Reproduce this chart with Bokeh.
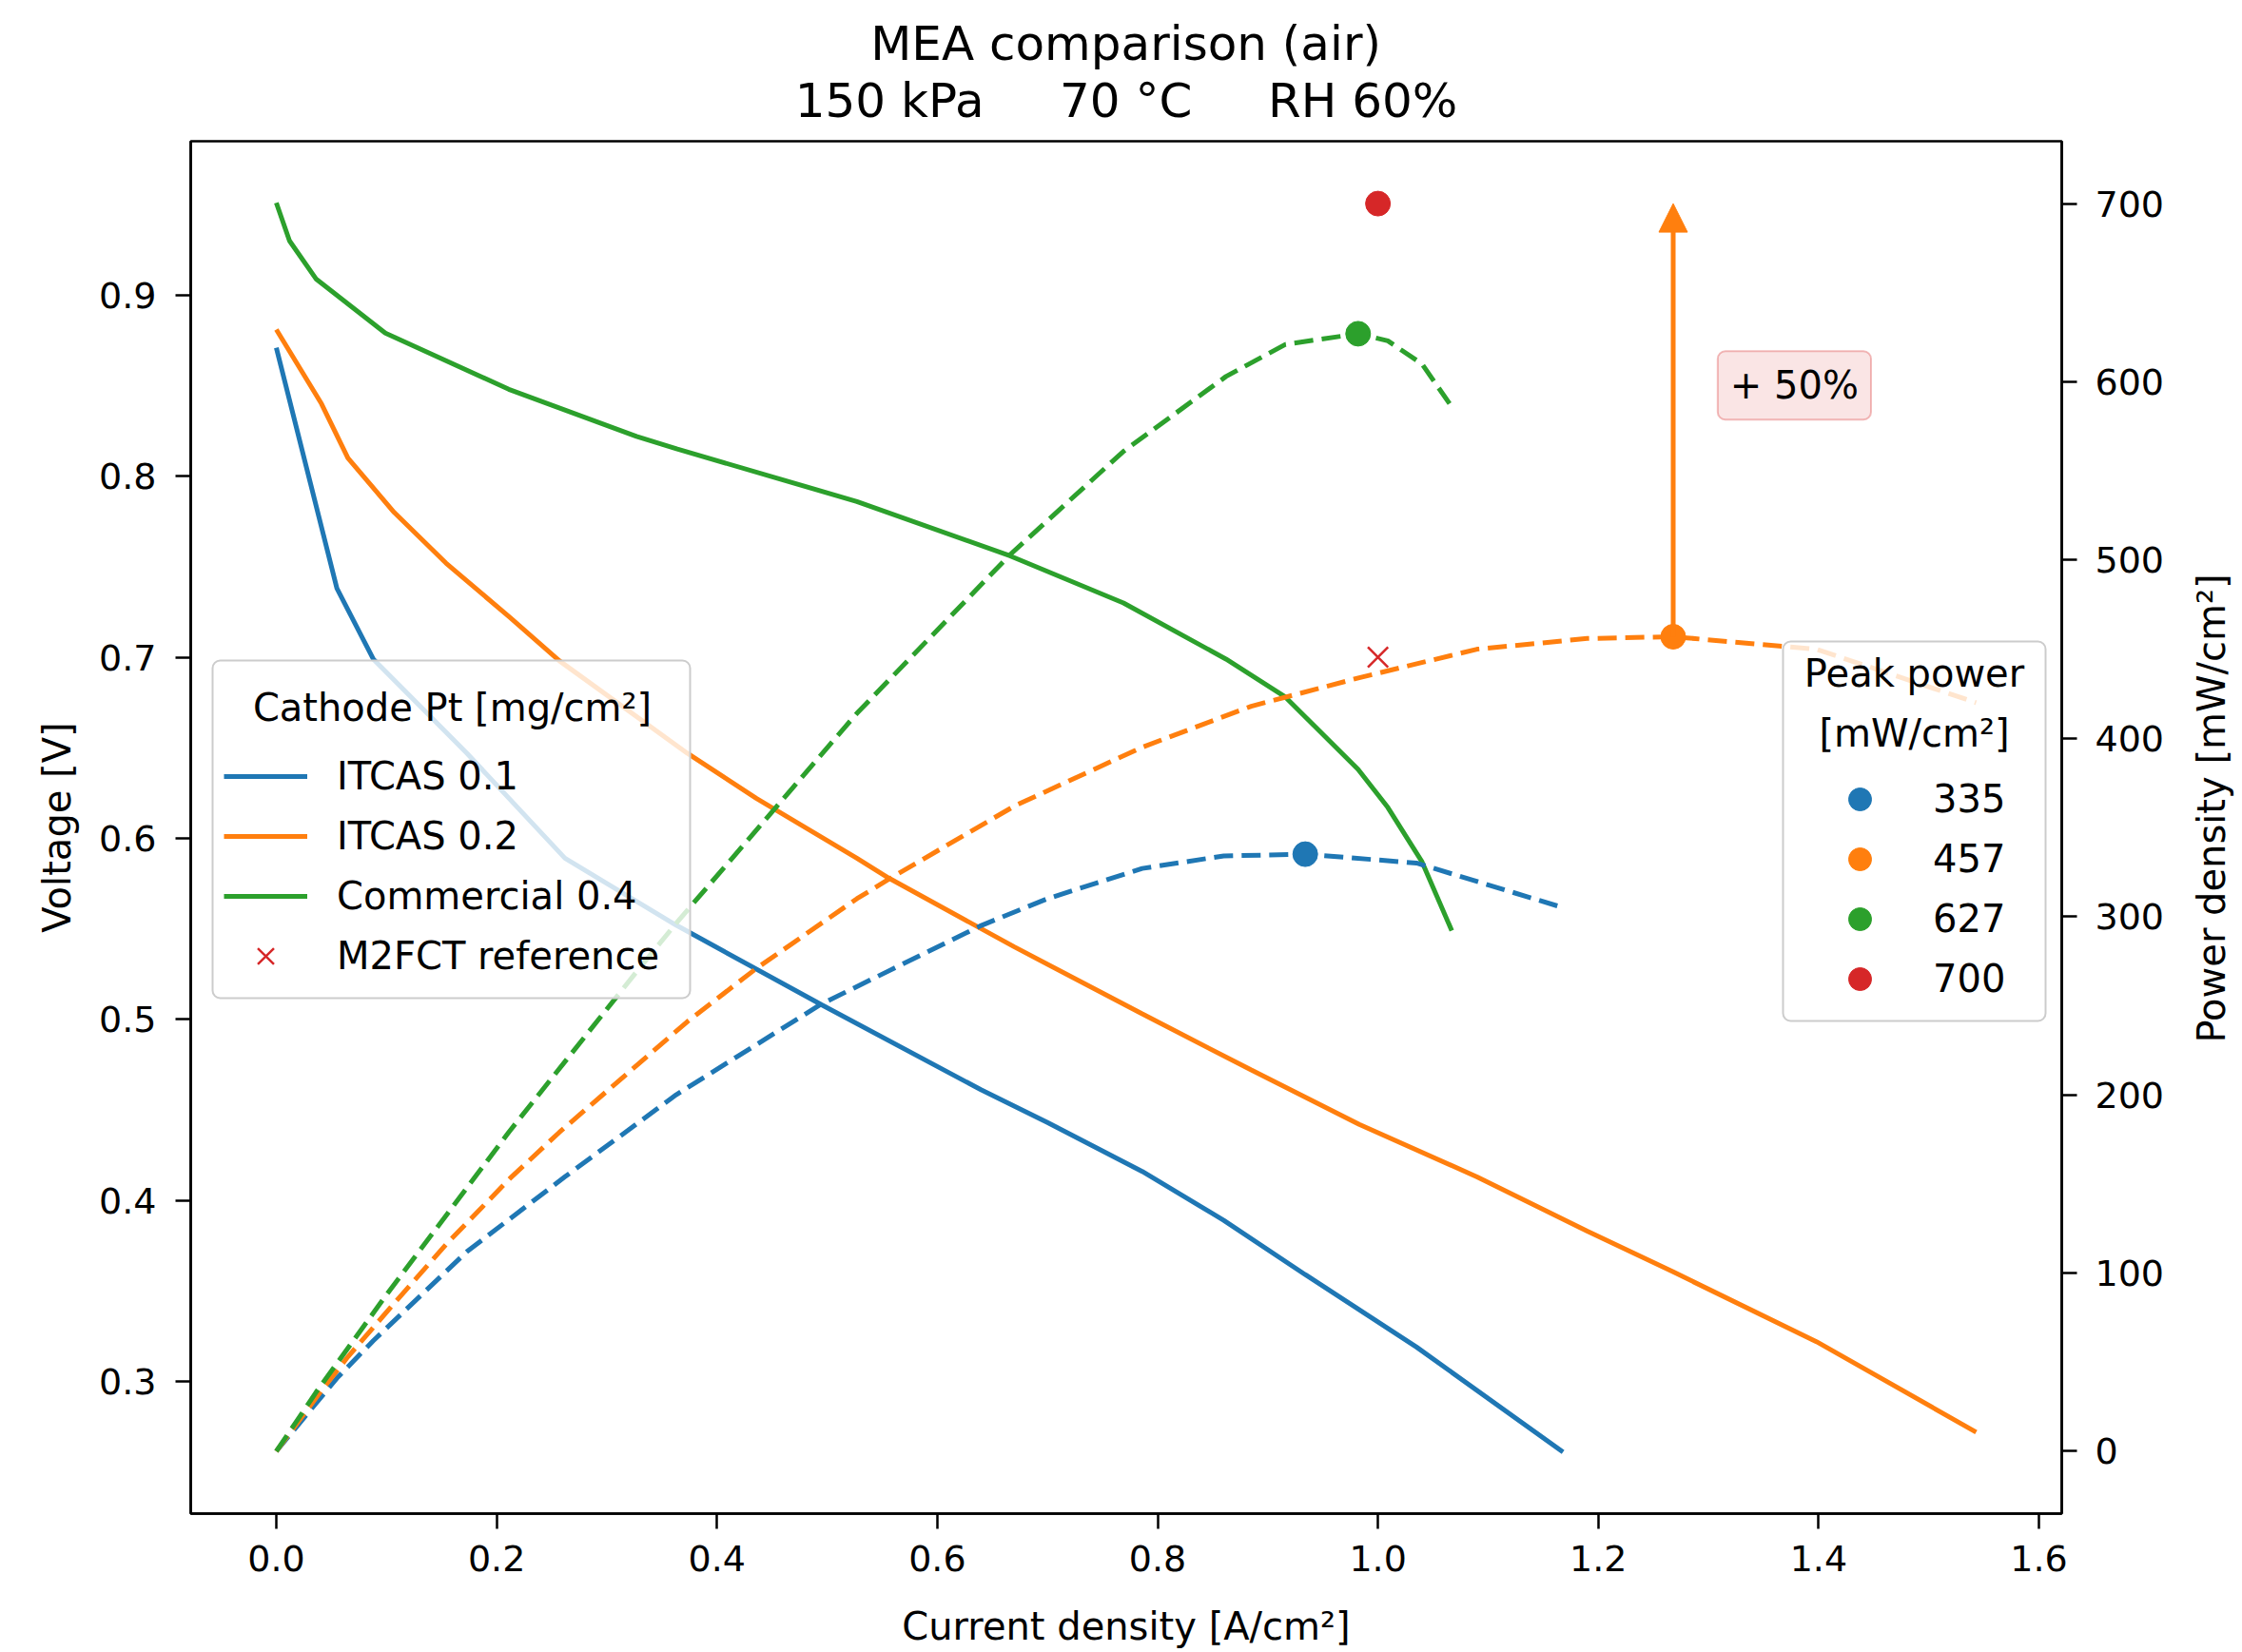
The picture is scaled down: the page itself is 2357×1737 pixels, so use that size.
import math
from bokeh.plotting import figure
from bokeh.layouts import row
from bokeh.models import (Range1d, LinearAxis, Legend, LegendItem, Label, Arrow, Title,
                          NormalHead, FixedTicker, NumeralTickFormatter, BoxAnnotation)
from bokeh.embed import file_html
from bokeh.resources import INLINE

# ---------------- data ----------------
# ITCAS 0.1
i_01 = [0.0, 0.055, 0.088, 0.173, 0.262, 0.363, 0.495, 0.640, 0.700, 0.786, 0.860, 0.934, 1.035, 1.168]
v_01 = [0.871, 0.738, 0.699, 0.647, 0.589, 0.552, 0.508, 0.461, 0.443, 0.416, 0.389, 0.359, 0.319, 0.261]
p_01 = [0, 41, 62, 112, 154, 200, 251, 295, 310, 327, 334, 335, 330, 305]
# ITCAS 0.2
i_02 = [0.0, 0.041, 0.065, 0.107, 0.154, 0.212, 0.257, 0.373, 0.436, 0.527, 0.556, 0.670,
        0.786, 0.885, 0.983, 1.090, 1.190, 1.268, 1.398, 1.543]
v_02 = [0.881, 0.840, 0.810, 0.780, 0.752, 0.722, 0.698, 0.647, 0.622, 0.589, 0.578, 0.540,
        0.503, 0.472, 0.442, 0.413, 0.383, 0.3605, 0.322, 0.272]
p_02 = [0, 34, 53, 83, 116, 153, 179, 241, 271, 310, 321, 362,
        395, 418, 434, 450, 456, 457, 450, 420]
# Commercial 0.4
i_04 = [0.0, 0.012, 0.036, 0.099, 0.211, 0.327, 0.364, 0.527, 0.666, 0.769, 0.862, 0.916,
        0.982, 1.009, 1.040, 1.067]
v_04 = [0.951, 0.930, 0.909, 0.879, 0.848, 0.822, 0.815, 0.786, 0.756, 0.730, 0.699, 0.678,
        0.638, 0.617, 0.587, 0.549]
p_04 = [0, 11, 33, 87, 179, 269, 297, 414, 503, 561, 603, 621,
        627, 623, 610, 586]

series_names = ["ITCAS 0.1", "ITCAS 0.2", "Commercial 0.4"]
ref_name = "M2FCT reference"
ref_i = [1.0]
ref_v = [0.7]

peak_i = [0.934, 1.268, 0.982, 1.0]
peak_p = [335, 457, 627, 700]
peak_labels = ["335", "457", "627", "700"]

arrow_x = 1.268
arrow_y0 = 457
arrow_y1 = 700
ann_text = "+ 50%"
ann_x = 1.378
ann_y = 598

x_ticks = [0.0, 0.2, 0.4, 0.6, 0.8, 1.0, 1.2, 1.4, 1.6]
v_ticks = [0.3, 0.4, 0.5, 0.6, 0.7, 0.8, 0.9]
p_ticks = [0, 100, 200, 300, 400, 500, 600, 700]

NB5 = "\u00a0" * 5
title_text = (NB5 + "MEA comparison (air)" + NB5 + "\n"
              "150 kPa" + NB5 + "70 °C" + NB5 + "RH 60%")
legend1_title = "Cathode Pt [mg/cm²]"
legend2_title = ["Peak power", "[mW/cm²]"]
right_label = "Power density [mW/cm²]"

BLUE, ORANGE, GREEN, RED = "#1f77b4", "#ff7f0e", "#2ca02c", "#d62728"
FONT = "DejaVu Sans"
FW, FH = 1967, 1443

# ---------------- main figure ----------------
p = figure(frame_width=FW, frame_height=FH,
           x_range=Range1d(-0.0777, 1.6207), y_range=Range1d(0.2270, 0.9850),
           min_border_left=200, min_border_right=131, min_border_top=148, min_border_bottom=140,
           output_backend="svg", toolbar_location=None)
p.extra_y_ranges = {"power": Range1d(-35, 735)}
p.grid.visible = False
p.outline_line_color = "black"
p.outline_line_width = 2.5
p.outline_line_alpha = 1.0
p.background_fill_color = "white"
p.border_fill_color = "white"

right_axis = LinearAxis(y_range_name="power")
p.add_layout(right_axis, "right")

def style_axis(ax, ticks, fmt, label, label_standoff, axis_label_standoff):
    ax.ticker = FixedTicker(ticks=ticks)
    ax.formatter = NumeralTickFormatter(format=fmt)
    ax.axis_label = label
    ax.axis_line_color = "black"
    ax.axis_line_width = 2.5
    ax.major_tick_line_color = "black"
    ax.major_tick_line_width = 2.5
    ax.major_tick_in = 0
    ax.major_tick_out = 16
    ax.minor_tick_line_color = None
    ax.major_label_text_font = FONT
    ax.major_label_text_font_size = "38px"
    ax.major_label_text_color = "black"
    ax.major_label_standoff = label_standoff
    ax.axis_label_text_font = FONT
    ax.axis_label_text_font_size = "40px"
    ax.axis_label_text_font_style = "normal"
    ax.axis_label_text_color = "black"
    ax.axis_label_standoff = axis_label_standoff

style_axis(p.xaxis[0], x_ticks, "0.0", "Current density [A/cm²]", 17, 32)
style_axis(p.yaxis[0], v_ticks, "0.0", "Voltage [V]", 20, 18)
style_axis(right_axis, p_ticks, "0", None, 19, 0)

LW = 5
DASH = "20 9"

# polarization curves (left axis)
r_v01 = p.line(i_01, v_01, line_color=BLUE, line_width=LW)
r_v02 = p.line(i_02, v_02, line_color=ORANGE, line_width=LW)
r_v04 = p.line(i_04, v_04, line_color=GREEN, line_width=LW)

# power curves (right axis)
p.line(i_01, p_01, line_color=BLUE, line_width=LW, line_dash=DASH, y_range_name="power")
p.line(i_02, p_02, line_color=ORANGE, line_width=LW, line_dash=DASH, y_range_name="power")
p.line(i_04, p_04, line_color=GREEN, line_width=LW, line_dash=DASH, y_range_name="power")

# reference marker
r_ref = p.scatter(ref_i, ref_v, marker="x", size=30, line_color=RED, line_width=2.5)

# arrow
p.add_layout(Arrow(end=NormalHead(size=30, fill_color=ORANGE, line_color=ORANGE, line_width=1),
                   x_start=arrow_x, y_start=arrow_y0, x_end=arrow_x, y_end=arrow_y1,
                   y_range_name="power", line_color=ORANGE, line_width=5))

# peak dots
peak_colors = [BLUE, ORANGE, GREEN, RED]
peak_renderers = []
for k in range(len(peak_i)):
    r = p.scatter([peak_i[k]], [peak_p[k]], marker="circle", size=26,
                  fill_color=peak_colors[k], line_color=peak_colors[k], y_range_name="power")
    peak_renderers.append(r)

# annotation box
p.add_layout(Label(x=ann_x, y=ann_y, y_range_name="power", text=ann_text,
                   text_align="center", text_baseline="middle",
                   text_font=FONT, text_font_size="40px", text_color="black",
                   background_fill_color=RED, background_fill_alpha=0.12,
                   border_line_color=RED, border_line_alpha=0.3, border_line_width=2,
                   padding=13, border_radius=8))

# legend frames (drawn as boxes so that the centred titles can sit on top)
for (l, r, b, t) in [(23, 525, 542, 897), (1674, 1950, 518, 917)]:
    p.add_layout(BoxAnnotation(left=l, right=r, bottom=b, top=t,
                               left_units="screen", right_units="screen",
                               bottom_units="screen", top_units="screen",
                               fill_color="white", fill_alpha=0.8,
                               line_color="#cccccc", line_width=2, line_alpha=1.0,
                               border_radius=8))

# legend titles (centred)
for txt, x, y in [(legend1_title, 275, 848),
                  (legend2_title[0], 1812, 884),
                  (legend2_title[1], 1812, 821)]:
    p.add_layout(Label(x=x, y=y, x_units="screen", y_units="screen", text=txt,
                       text_align="center", text_baseline="middle",
                       text_font=FONT, text_font_size="40px", text_color="black"))

# legends (transparent, items only)
common = dict(padding=12, spacing=3, glyph_height=60, label_height=60,
              label_text_font=FONT, label_text_font_size="40px", label_text_color="black",
              border_line_color=None, background_fill_alpha=0.0, margin=0,
              title="\u00a0", title_text_font=FONT, title_text_font_size="40px")

leg1 = Legend(items=[LegendItem(label=series_names[0], renderers=[r_v01]),
                     LegendItem(label=series_names[1], renderers=[r_v02]),
                     LegendItem(label=series_names[2], renderers=[r_v04]),
                     LegendItem(label=ref_name, renderers=[r_ref])],
              location=(35, 556), glyph_width=88, label_standoff=31, label_width=359,
              title_standoff=32, **common)
p.add_layout(leg1)

leg2 = Legend(items=[LegendItem(label=peak_labels[k], renderers=[peak_renderers[k]])
                     for k in range(len(peak_labels))],
              location=(1686, 532), glyph_width=138, label_standoff=8, label_width=106,
              title_standoff=76, **common)
p.add_layout(leg2)

# figure title (two centred lines)
p.add_layout(Title(text=title_text, align="center", text_font=FONT, text_font_size="50px",
                   text_font_style="normal", text_color="black", text_line_height=1.05,
                   standoff=26), "above")

# ---------------- narrow side figure carrying the right-hand axis label ----------------
p2 = figure(frame_width=2, frame_height=1403, min_border_left=0, min_border_right=0,
            min_border_top=148, min_border_bottom=180,
            x_range=Range1d(0, 1), y_range=Range1d(0, 1),
            output_backend="svg", toolbar_location=None)
p2.xaxis.visible = False
p2.grid.visible = False
p2.outline_line_color = None
p2.background_fill_color = "white"
p2.border_fill_color = "white"
ax2 = p2.yaxis[0]
ax2.ticker = FixedTicker(ticks=[])
ax2.axis_line_color = None
ax2.major_tick_out = 0
ax2.major_tick_in = 0
ax2.minor_tick_out = 0
ax2.minor_tick_in = 0
ax2.major_label_standoff = 0
ax2.axis_label = right_label
ax2.axis_label_standoff = 0
ax2.axis_label_text_font = FONT
ax2.axis_label_text_font_size = "40px"
ax2.axis_label_text_font_style = "normal"
ax2.axis_label_text_color = "black"

layout = row(p, p2)
open("out.html", "w").write(file_html(layout, INLINE))
